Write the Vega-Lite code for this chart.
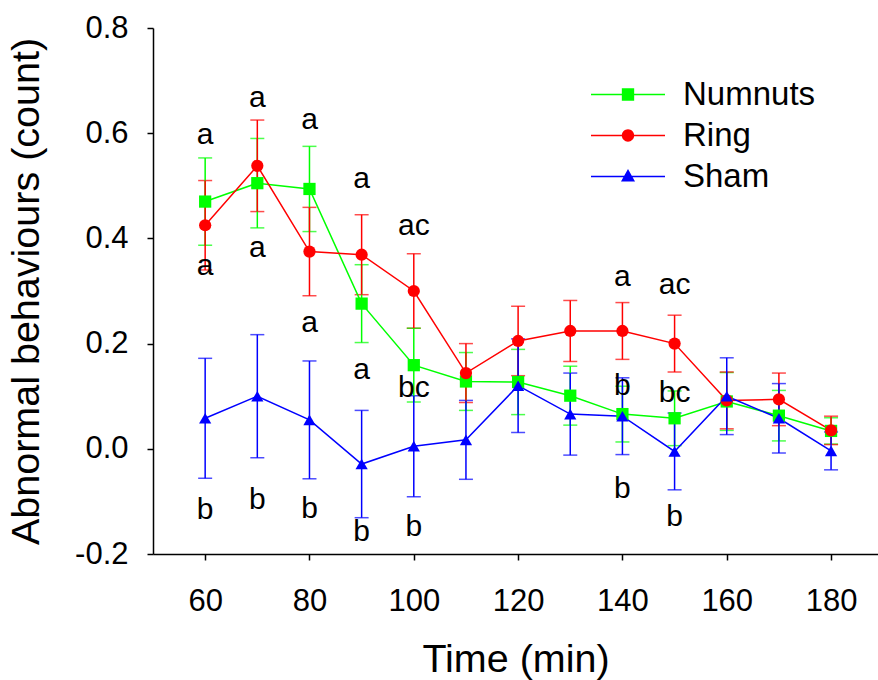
{
  "$schema": "https://vega.github.io/schema/vega-lite/v6.json",
  "autosize": {"type": "none"},
  "padding": {"left": 153, "top": 28, "right": 0, "bottom": 126},
  "width": 725,
  "height": 526,
  "background": "white",
  "config": {
    "view": {"stroke": null},
    "font": "Liberation Sans",
    "axis": {
      "domainColor": "black", "domainWidth": 1.5, "tickColor": "black", "tickWidth": 1.5, "tickSize": 6,
      "labelColor": "black", "titleColor": "black", "labelFont": "Liberation Sans", "titleFont": "Liberation Sans",
      "titleFontWeight": "normal", "grid": false, "labelFontSize": 31
    },
    "legend": {"labelFont": "Liberation Sans", "orient": "none", "legendX": 438, "legendY": 50, "padding": 0,
      "symbolSize": 5476, "symbolStrokeWidth": 0, "symbolOpacity": 1, "clipHeight": 33,
      "labelFontSize": 33, "labelColor": "black", "labelOffset": 18, "rowPadding": 7}
  },
  "datasets": {
    "main": [
      {"series": "Numnuts", "time": 60, "mean": 0.470, "lo": 0.387, "hi": 0.553},
      {"series": "Numnuts", "time": 70, "mean": 0.505, "lo": 0.420, "hi": 0.590},
      {"series": "Numnuts", "time": 80, "mean": 0.494, "lo": 0.413, "hi": 0.575},
      {"series": "Numnuts", "time": 90, "mean": 0.276, "lo": 0.202, "hi": 0.350},
      {"series": "Numnuts", "time": 100, "mean": 0.159, "lo": 0.089, "hi": 0.229},
      {"series": "Numnuts", "time": 110, "mean": 0.128, "lo": 0.073, "hi": 0.183},
      {"series": "Numnuts", "time": 120, "mean": 0.127, "lo": 0.065, "hi": 0.189},
      {"series": "Numnuts", "time": 130, "mean": 0.101, "lo": 0.045, "hi": 0.157},
      {"series": "Numnuts", "time": 140, "mean": 0.066, "lo": 0.013, "hi": 0.119},
      {"series": "Numnuts", "time": 150, "mean": 0.058, "lo": 0.006, "hi": 0.110},
      {"series": "Numnuts", "time": 160, "mean": 0.090, "lo": 0.035, "hi": 0.145},
      {"series": "Numnuts", "time": 170, "mean": 0.063, "lo": 0.015, "hi": 0.111},
      {"series": "Numnuts", "time": 180, "mean": 0.034, "lo": 0.009, "hi": 0.059},
      {"series": "Ring", "time": 60, "mean": 0.425, "lo": 0.340, "hi": 0.510},
      {"series": "Ring", "time": 70, "mean": 0.538, "lo": 0.451, "hi": 0.625},
      {"series": "Ring", "time": 80, "mean": 0.375, "lo": 0.291, "hi": 0.459},
      {"series": "Ring", "time": 90, "mean": 0.369, "lo": 0.293, "hi": 0.445},
      {"series": "Ring", "time": 100, "mean": 0.300, "lo": 0.229, "hi": 0.371},
      {"series": "Ring", "time": 110, "mean": 0.144, "lo": 0.088, "hi": 0.200},
      {"series": "Ring", "time": 120, "mean": 0.205, "lo": 0.139, "hi": 0.271},
      {"series": "Ring", "time": 130, "mean": 0.224, "lo": 0.166, "hi": 0.282},
      {"series": "Ring", "time": 140, "mean": 0.224, "lo": 0.170, "hi": 0.278},
      {"series": "Ring", "time": 150, "mean": 0.200, "lo": 0.146, "hi": 0.254},
      {"series": "Ring", "time": 160, "mean": 0.092, "lo": 0.038, "hi": 0.146},
      {"series": "Ring", "time": 170, "mean": 0.094, "lo": 0.044, "hi": 0.144},
      {"series": "Ring", "time": 180, "mean": 0.035, "lo": 0.008, "hi": 0.062},
      {"series": "Sham", "time": 60, "mean": 0.058, "lo": -0.056, "hi": 0.172},
      {"series": "Sham", "time": 70, "mean": 0.100, "lo": -0.017, "hi": 0.217},
      {"series": "Sham", "time": 80, "mean": 0.055, "lo": -0.057, "hi": 0.167},
      {"series": "Sham", "time": 90, "mean": -0.029, "lo": -0.131, "hi": 0.073},
      {"series": "Sham", "time": 100, "mean": 0.005, "lo": -0.091, "hi": 0.101},
      {"series": "Sham", "time": 110, "mean": 0.017, "lo": -0.058, "hi": 0.092},
      {"series": "Sham", "time": 120, "mean": 0.120, "lo": 0.031, "hi": 0.209},
      {"series": "Sham", "time": 130, "mean": 0.066, "lo": -0.012, "hi": 0.144},
      {"series": "Sham", "time": 140, "mean": 0.062, "lo": -0.011, "hi": 0.135},
      {"series": "Sham", "time": 150, "mean": -0.005, "lo": -0.078, "hi": 0.068},
      {"series": "Sham", "time": 160, "mean": 0.100, "lo": 0.027, "hi": 0.173},
      {"series": "Sham", "time": 170, "mean": 0.058, "lo": -0.008, "hi": 0.124},
      {"series": "Sham", "time": 180, "mean": -0.004, "lo": -0.040, "hi": 0.032}
    ],
    "letters": [
      {"time": 60, "pos": 0.597, "label": "a"},
      {"time": 70, "pos": 0.667, "label": "a"},
      {"time": 80, "pos": 0.625, "label": "a"},
      {"time": 90, "pos": 0.513, "label": "a"},
      {"time": 100, "pos": 0.423, "label": "ac"},
      {"time": 140, "pos": 0.326, "label": "a"},
      {"time": 150, "pos": 0.312, "label": "ac"},
      {"time": 60, "pos": 0.347, "label": "a"},
      {"time": 70, "pos": 0.382, "label": "a"},
      {"time": 80, "pos": 0.240, "label": "a"},
      {"time": 90, "pos": 0.150, "label": "a"},
      {"time": 100, "pos": 0.116, "label": "bc"},
      {"time": 140, "pos": 0.120, "label": "b"},
      {"time": 150, "pos": 0.107, "label": "bc"},
      {"time": 60, "pos": -0.116, "label": "b"},
      {"time": 70, "pos": -0.097, "label": "b"},
      {"time": 80, "pos": -0.114, "label": "b"},
      {"time": 90, "pos": -0.158, "label": "b"},
      {"time": 100, "pos": -0.148, "label": "b"},
      {"time": 140, "pos": -0.076, "label": "b"},
      {"time": 150, "pos": -0.129, "label": "b"}
    ]
  },
  "resolve": {
    "scale": {"shape": "independent", "size": "independent", "color": "independent"},
    "legend": {"shape": "independent", "color": "independent", "size": "independent"}
  },
  "layer": [
    {
      "data": {"values": [{"edge": "top"}]},
      "mark": {"type": "rule", "color": "black", "strokeWidth": 1.5},
      "encoding": {"y": {"datum": 0.8, "type": "quantitative"}}
    },
    {
      "data": {"name": "main"},
      "mark": {"type": "errorbar", "ticks": {"size": 14}, "thickness": 1.5},
      "encoding": {
        "x": {"field": "time", "type": "quantitative"},
        "y": {"field": "lo", "type": "quantitative"},
        "y2": {"field": "hi"},
        "color": {"field": "series", "type": "nominal", "legend": null,
          "scale": {"domain": ["Numnuts", "Ring", "Sham"], "range": ["#00ff00", "#ff0000", "#0000ff"]}}
      }
    },
    {
      "data": {"name": "main"},
      "mark": {"type": "line", "strokeWidth": 1.5},
      "encoding": {
        "x": {"field": "time", "type": "quantitative"},
        "y": {"field": "mean", "type": "quantitative"},
        "color": {"field": "series", "type": "nominal", "legend": null,
          "scale": {"domain": ["Numnuts", "Ring", "Sham"], "range": ["#00ff00", "#ff0000", "#0000ff"]}},
        "order": {"field": "time"}
      }
    },
    {
      "data": {"name": "main"},
      "mark": {"type": "point", "filled": true, "opacity": 1},
      "encoding": {
        "x": {"field": "time", "type": "quantitative"},
        "y": {"field": "mean", "type": "quantitative"},
        "color": {"field": "series", "type": "nominal", "legend": null,
          "scale": {"domain": ["Numnuts", "Ring", "Sham"], "range": ["#00ff00", "#ff0000", "#0000ff"]}},
        "shape": {"field": "series", "type": "nominal", "legend": null,
          "scale": {"domain": ["Numnuts", "Ring", "Sham"], "range": ["square", "circle", "triangle-up"]}},
        "size": {"field": "series", "type": "nominal", "legend": null,
          "scale": {"domain": ["Numnuts", "Ring", "Sham"], "range": [150, 150, 196]}}
      }
    },
    {
      "data": {"name": "letters"},
      "mark": {"type": "text", "font": "Liberation Sans", "fontSize": 30, "color": "black", "align": "center", "baseline": "middle"},
      "encoding": {
        "x": {"field": "time", "type": "quantitative"},
        "y": {"field": "pos", "type": "quantitative"},
        "text": {"field": "label"}
      }
    },
    {
      "data": {"name": "main"},
      "mark": {"type": "point", "filled": true, "opacity": 0, "size": 5476},
      "encoding": {
        "x": {"field": "time", "type": "quantitative"},
        "y": {"field": "mean", "type": "quantitative"},
        "color": {"field": "series", "type": "nominal", "legend": {"title": null},
          "scale": {"domain": ["Numnuts", "Ring", "Sham"], "range": ["#00ff00", "#ff0000", "#0000ff"]}},
        "shape": {"field": "series", "type": "nominal", "legend": {"title": null},
          "scale": {"domain": ["Numnuts", "Ring", "Sham"], "range": [
            "M-1,-0.02L1,-0.02L1,0.02L-1,0.02ZM-0.167,-0.167L0.167,-0.167L0.167,0.167L-0.167,0.167Z",
            "M-1,-0.02L1,-0.02L1,0.02L-1,0.02ZM-0.167,0A0.167,0.167,0,1,1,0.167,0A0.167,0.167,0,1,1,-0.167,0Z",
            "M-1,-0.02L1,-0.02L1,0.02L-1,0.02ZM0,-0.2L0.19,0.135L-0.19,0.135Z"]}}
      }
    }
  ],
  "encoding": {
    "x": {
      "field": "time", "type": "quantitative",
      "scale": {"domain": [50, 189], "nice": false, "zero": false},
      "axis": {"values": [60, 80, 100, 120, 140, 160, 180], "title": "Time (min)", "titleFontSize": 39.5,
        "labelPadding": 26, "titlePadding": 24, "labelFlush": false}
    },
    "y": {
      "type": "quantitative",
      "scale": {"domain": [-0.2, 0.8], "nice": false, "zero": false},
      "axis": {"values": [-0.2, 0, 0.2, 0.4, 0.6, 0.8], "title": "Abnormal behaviours (count)", "titleFontSize": 39.5,
        "labelPadding": 19, "titlePadding": 28, "labelFlush": false,
        "labelExpr": "replace(format(datum.value, '.1f'), '−', '-')"}
    }
  }
}
